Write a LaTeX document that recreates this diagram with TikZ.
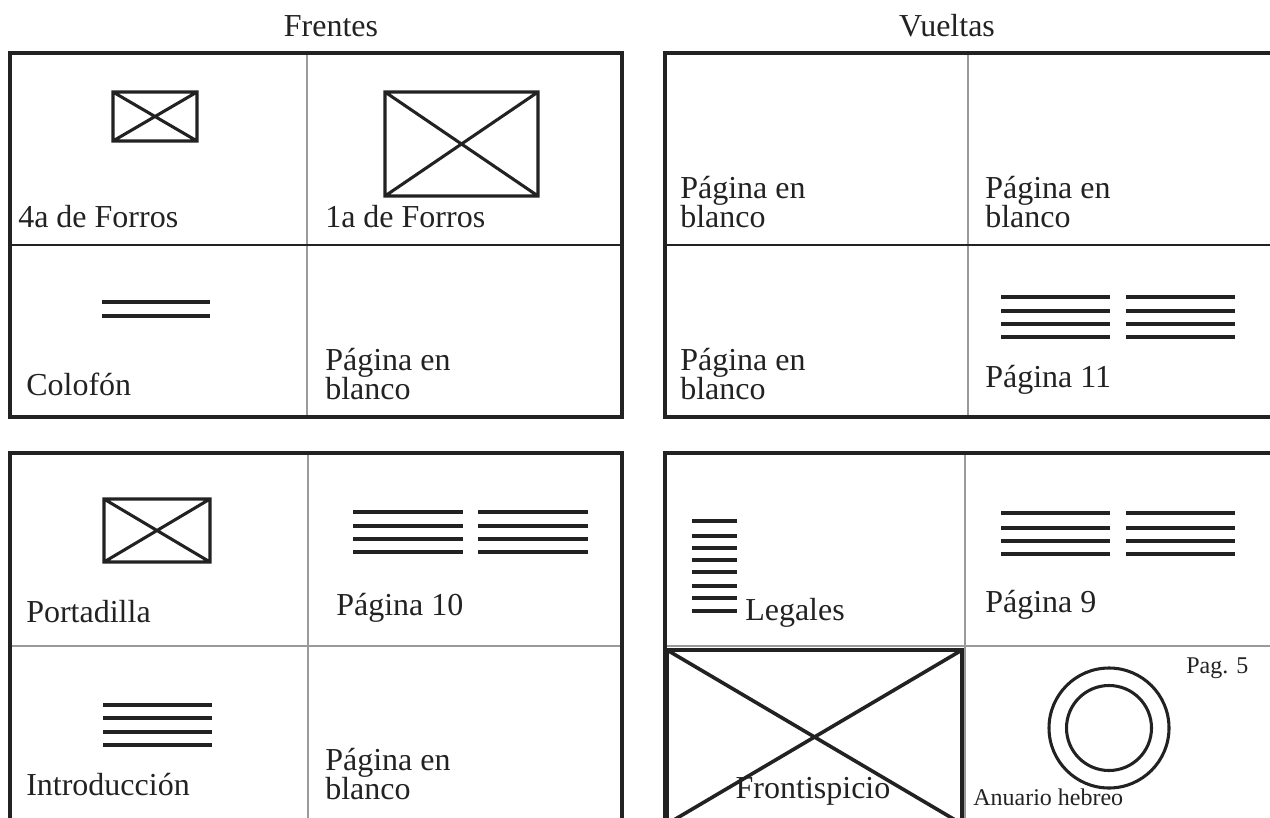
\documentclass[tikz,border=0pt]{standalone}
\usepackage{fontspec}
\setmainfont{Liberation Serif}
\definecolor{dark}{HTML}{222222}
\definecolor{midgray}{HTML}{9A9A9A}
\newcommand\lblfont{\fontsize{24}{24}\selectfont}
\newcommand\smlfont{\fontsize{18}{18}\selectfont}
\tikzset{
  panel/.style={draw=dark, line width=2.6pt},
  divv/.style={draw=midgray, line width=2pt},
  divh/.style={draw=dark, line width=0.8pt},
  divhg/.style={draw=midgray, line width=1.3pt},
  pic/.style={draw=dark, line width=2.3pt},
  bigpic/.style={draw=dark, line width=2.7pt},
  bar/.style={draw=dark, line width=2.9pt},
  lbl/.style={anchor=base west, inner sep=0pt, font=\lblfont, text=dark},
  sml/.style={anchor=base west, inner sep=0pt, font=\smlfont, text=dark},
  ttl/.style={anchor=base, inner sep=0pt, font=\lblfont, text=dark}
}
\begin{document}
\begin{tikzpicture}[x=0.75pt,y=-0.75pt]
\useasboundingbox (0,0) rectangle (1270,817);
\clip (0,0) rectangle (1270,817);

% titles
\node[ttl] (tFrentes) at (331,37) {Frentes};
\node[ttl] (tVueltas) at (947,37) {Vueltas};

% ---------- top-left panel ----------
\draw[divv] (307,53) -- (307,417);
\draw[divh] (10,245) -- (622,245);
\draw[panel] (10,53) rectangle (622,417);
\draw[pic] (113,92) rectangle (197,141) (113,92) -- (197,141) (113,141) -- (197,92);
\node[lbl] (forros4) at (18,227) {4a de Forros};
\draw[pic] (385,92) rectangle (538,196) (385,92) -- (538,196) (385,196) -- (538,92);
\node[lbl] (forros1) at (325,227) {1a de Forros};
\foreach \y in {302,316} \draw[bar] (102,\y) -- (210,\y);
\node[lbl] (colofon) at (26,395) {Colofón};
\node[lbl] (tlb1) at (325,370) {Página en};
\node[lbl] (tlb2) at (325,399) {blanco};

% ---------- top-right panel ----------
\draw[divv] (968,53) -- (968,417);
\draw[divh] (665,245) -- (1300,245);
\draw[panel] (665,53) rectangle (1300,417);
\node[lbl] (tra1) at (680,198) {Página en};
\node[lbl] (tra2) at (680,227) {blanco};
\node[lbl] (trb1) at (985,198) {Página en};
\node[lbl] (trb2) at (985,227) {blanco};
\node[lbl] (trc1) at (680,370) {Página en};
\node[lbl] (trc2) at (680,399) {blanco};
\foreach \y in {297,311,324,337} {
  \draw[bar] (1001,\y) -- (1110,\y);
  \draw[bar] (1126,\y) -- (1235,\y);
}
\node[lbl] (pag11) at (985,387) {Página 11};

% ---------- bottom-left panel ----------
\draw[divv] (308,453) -- (308,850);
\draw[divhg] (10,646) -- (622,646);
\draw[panel] (10,453) rectangle (622,850);
\draw[pic] (104,499) rectangle (210,562) (104,499) -- (210,562) (104,562) -- (210,499);
\node[lbl] (portadilla) at (26,622) {Portadilla};
\foreach \y in {512,526,539,552} {
  \draw[bar] (353,\y) -- (463,\y);
  \draw[bar] (478,\y) -- (588,\y);
}
\node[lbl] (pag10) at (336,615) {Página 10};
\foreach \y in {705,718,732,745} \draw[bar] (103,\y) -- (212,\y);
\node[lbl] (intro) at (26,795) {Introducción};
\node[lbl] (blb1) at (325,770) {Página en};
\node[lbl] (blb2) at (325,799) {blanco};

% ---------- bottom-right panel ----------
\draw[divv] (965,453) -- (965,850);
\draw[divhg] (665,646) -- (1300,646);
\draw[panel] (665,453) rectangle (1300,850);
\foreach \y in {521,536,548,560,572,586,598,611} \draw[bar] (692,\y) -- (737,\y);
\node[lbl] (legales) at (745,620) {Legales};
\draw[bigpic] (667,650) rectangle (962,824) (667,650) -- (962,824) (667,824) -- (962,650);
\node[ttl] (frontis) at (813,798) {Frontispicio};
\foreach \y in {513,528,541,554} {
  \draw[bar] (1001,\y) -- (1110,\y);
  \draw[bar] (1126,\y) -- (1235,\y);
}
\node[lbl] (pag9) at (985,612) {Página 9};
\node[sml] (pag5) at (1186,673) {Pag. 5};
\draw[pic] (1109,728) circle[radius=60];
\draw[pic] (1109,728) circle[radius=42.5];
\node[sml] (anuario) at (973,805) {Anuario hebreo};
\end{tikzpicture}
\end{document}
